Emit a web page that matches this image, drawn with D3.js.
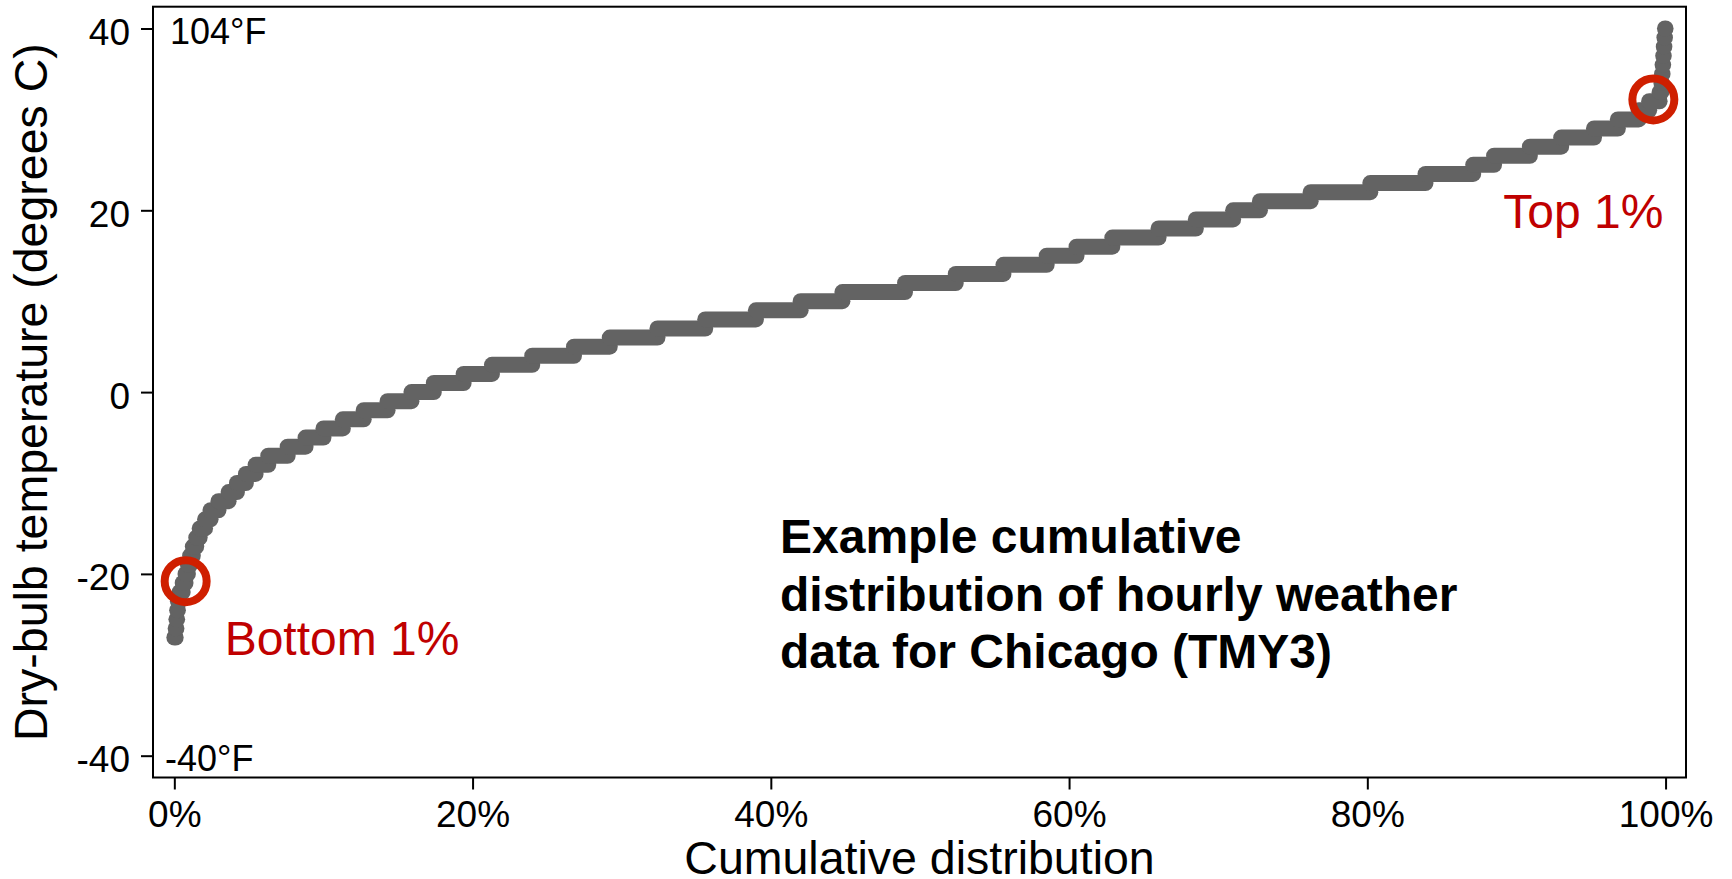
<!DOCTYPE html>
<html>
<head>
<meta charset="utf-8">
<script src="https://cdn.jsdelivr.net/npm/d3@7"></script>
<style>
  html, body { margin: 0; padding: 0; background: #ffffff; }
  svg { display: block; }
  text { font-family: "Liberation Sans", Arial, Helvetica, sans-serif; }
</style>
</head>
<body>
<svg id="chart" width="1732" height="879"></svg>
<script>
// Hourly dry-bulb temperature, sorted: each whole-degree level and the
// cumulative share of the year (percent) at which that level ends.
const tempLevels = [
  -27, -26, -25, -24, -23, -22, -21, -20, -19, -18, -17, -16, -15, -14,
  -13, -12, -11, -10, -9, -8, -7, -6, -5, -4, -3, -2, -1, 0,
  1, 2, 3, 4, 5, 6, 7, 8, 9, 10, 11, 12, 13, 14,
  15, 16, 17, 18, 19, 20, 21, 22, 23, 24, 25, 26, 27, 28,
  29, 30, 31, 32, 33, 34, 35, 36, 37, 38, 39, 40
];
const cumEndPct = [
  0.09, 0.14, 0.19, 0.24, 0.35, 0.56, 0.75, 0.91, 1.06, 1.24, 1.47, 1.70, 2.06, 2.43,
  2.96, 3.64, 4.20, 4.80, 5.45, 6.30, 7.60, 8.80, 10.0, 11.3, 12.7, 14.3, 15.9, 17.4,
  19.4, 21.3, 24.0, 26.8, 29.2, 32.4, 35.6, 39.0, 42.0, 44.8, 49.0, 52.4, 55.6, 58.5,
  60.5, 62.9, 66.0, 68.5, 71.0, 72.8, 76.2, 80.2, 83.9, 87.1, 88.5, 90.9, 93.0, 95.2,
  96.8, 98.2, 98.9, 99.6, 99.72, 99.76, 99.8, 99.84, 99.88, 99.92, 99.96, 100
];

// Axis ticks
const xTicks = [0, 20, 40, 60, 80, 100];
const yTicks = [-40, -20, 0, 20, 40];

// Fahrenheit equivalents written at the ends of the temperature scale
const fahrenheitTemps = [40, -40];
const fahrenheitLabels = ["104\u00B0F", "-40\u00B0F"];

// Highlighted tails of the distribution
const highlightPct = [0.76, 99.18];
const highlightTemp = [-20.8, 32.2];
const highlightLabels = ["Bottom 1%", "Top 1%"];

const noteLines = [
  "Example cumulative",
  "distribution of hourly weather",
  "data for Chicago (TMY3)"
];

const svg = d3.select("#chart");
const plot = { left: 153, right: 1686, top: 6.7, bottom: 777.5 };

const x = d3.scaleLinear().domain([-1.43, 101.37]).range([plot.left, plot.right]);
const y = d3.scaleLinear().domain([-42.4, 42.4]).range([plot.bottom, plot.top]);

const tickFont = 37;
const titleFont = 46.5;
const labelFont = 48;

// Sorted temperature curve: one run of markers per whole-degree level
const steps = tempLevels.map((t, i) => ({
  t,
  from: i === 0 ? 0 : cumEndPct[i - 1],
  to: cumEndPct[i]
}));

svg.append("g")
  .selectAll("line")
  .data(steps)
  .join("line")
  .attr("x1", d => x(d.from))
  .attr("x2", d => x(d.to))
  .attr("y1", d => y(d.t))
  .attr("y2", d => y(d.t))
  .attr("stroke", "#636363")
  .attr("stroke-width", 16)
  .attr("stroke-linecap", "round");

// Plot frame
svg.append("rect")
  .attr("x", plot.left)
  .attr("y", plot.top)
  .attr("width", plot.right - plot.left)
  .attr("height", plot.bottom - plot.top)
  .attr("fill", "none")
  .attr("stroke", "#000")
  .attr("stroke-width", 2);

// Y axis
const yAxis = svg.append("g")
  .attr("transform", `translate(${plot.left},0)`)
  .call(d3.axisLeft(y).tickValues(yTicks).tickSize(12).tickPadding(11).tickFormat(d => String(d)));
yAxis.select(".domain").remove();
yAxis.selectAll(".tick line").attr("stroke", "#000").attr("stroke-width", 2);
yAxis.selectAll(".tick text")
  .attr("dy", "0.43em")
  .attr("fill", "#000")
  .style("font-size", tickFont + "px");

// X axis
const xAxis = svg.append("g")
  .attr("transform", `translate(0,${plot.bottom})`)
  .call(d3.axisBottom(x).tickValues(xTicks).tickSize(12).tickPadding(11).tickFormat(d => d + "%"));
xAxis.select(".domain").remove();
xAxis.selectAll(".tick line").attr("stroke", "#000").attr("stroke-width", 2);
xAxis.selectAll(".tick text")
  .attr("fill", "#000")
  .style("font-size", tickFont + "px");

// Axis titles
svg.append("text")
  .attr("x", (plot.left + plot.right) / 2)
  .attr("y", 874)
  .attr("text-anchor", "middle")
  .style("font-size", titleFont + "px")
  .text("Cumulative distribution");

svg.append("text")
  .attr("transform", `translate(47,${(plot.top + plot.bottom) / 2}) rotate(-90)`)
  .attr("text-anchor", "middle")
  .style("font-size", titleFont + "px")
  .text("Dry-bulb temperature (degrees C)");

// Fahrenheit reference labels inside the frame
svg.append("g")
  .selectAll("text")
  .data(fahrenheitTemps)
  .join("text")
  .attr("x", (d, i) => plot.left + (i === 0 ? 17 : 12))
  .attr("y", d => y(d) + 15)
  .style("font-size", "36px")
  .text((d, i) => fahrenheitLabels[i]);

// Tail markers
svg.append("g")
  .selectAll("circle")
  .data(highlightPct)
  .join("circle")
  .attr("cx", d => x(d))
  .attr("cy", (d, i) => y(highlightTemp[i]))
  .attr("r", 21)
  .attr("fill", "none")
  .attr("stroke", "#cf1f00")
  .attr("stroke-width", 8);

svg.append("g")
  .selectAll("text")
  .data(highlightPct)
  .join("text")
  .attr("x", (d, i) => i === 0 ? x(d) + 39 : x(d) + 10)
  .attr("y", (d, i) => y(highlightTemp[i]) + (i === 0 ? 74 : 129))
  .attr("text-anchor", (d, i) => i === 0 ? "start" : "end")
  .attr("fill", "#c00000")
  .style("font-size", labelFont + "px")
  .text((d, i) => highlightLabels[i]);

// Chart note
svg.append("text")
  .attr("x", 780)
  .attr("y", 553)
  .style("font-size", labelFont + "px")
  .style("font-weight", "bold")
  .selectAll("tspan")
  .data(noteLines)
  .join("tspan")
  .attr("x", 780)
  .attr("dy", (d, i) => i === 0 ? 0 : 57.5)
  .text(d => d);
</script>
</body>
</html>
